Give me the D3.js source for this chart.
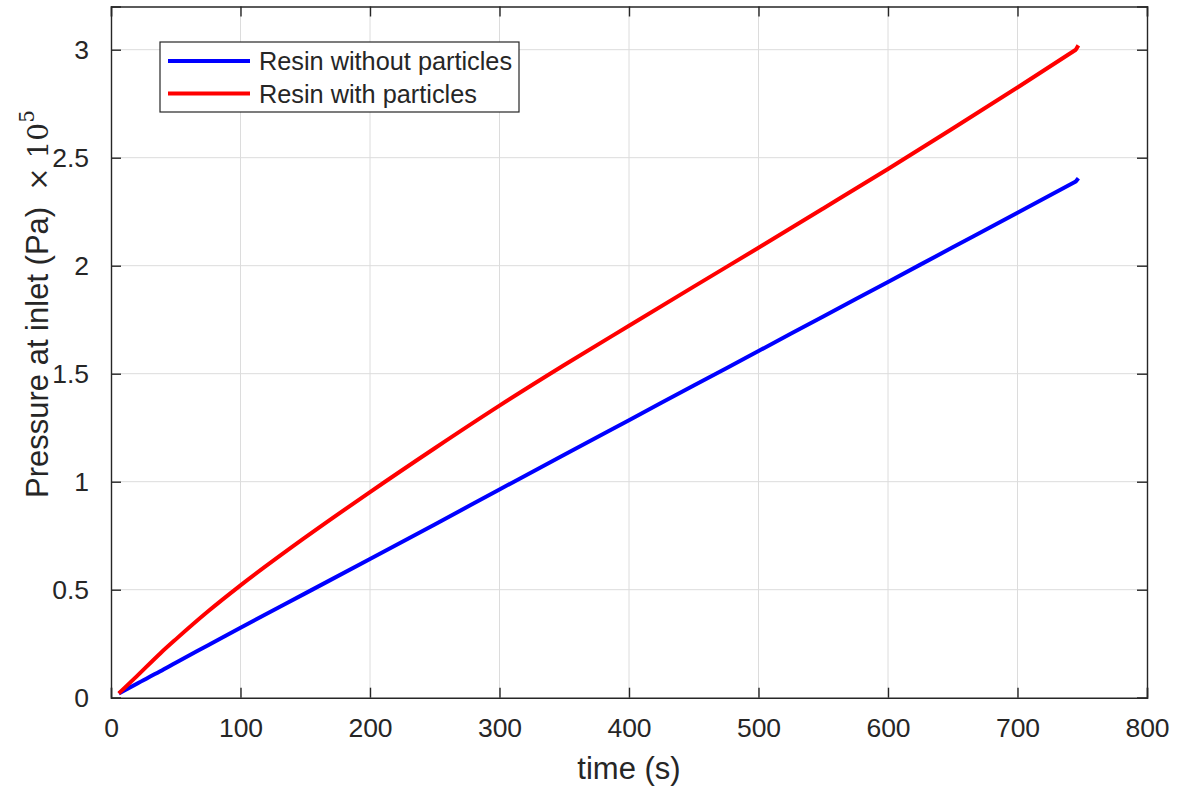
<!DOCTYPE html>
<html>
<head>
<meta charset="utf-8">
<script src="https://cdn.jsdelivr.net/npm/d3@7"></script>
<style>
  html, body { margin: 0; padding: 0; background: #fff; }
  svg { display: block; }
  text { font-family: "Liberation Sans", Arial, sans-serif; fill: #262626; }
</style>
</head>
<body>
<svg id="chart" width="1195" height="788"></svg>
<script>
// Inlet pressure (in units of 1e5 Pa) over time (s)
const timeWithout = [6, 20, 38, 50, 75, 100, 150, 200, 250, 300, 350, 400, 450, 500, 550, 600, 650, 700, 745, 747];
const pressureWithout = [0.02, 0.065, 0.122, 0.162, 0.243, 0.324, 0.483, 0.642, 0.802, 0.964, 1.125, 1.285, 1.445, 1.605, 1.765, 1.925, 2.085, 2.245, 2.39, 2.405];

const timeWith = [6, 20, 38, 50, 75, 100, 150, 200, 250, 300, 350, 400, 450, 500, 550, 600, 650, 700, 745, 747];
const pressureWith = [0.02, 0.10, 0.205, 0.27, 0.40, 0.52, 0.742, 0.952, 1.155, 1.352, 1.54, 1.722, 1.903, 2.083, 2.265, 2.448, 2.635, 2.825, 3.0, 3.02];

const seriesNames = ["Resin without particles", "Resin with particles"];
const seriesColors = ["#0000ff", "#ff0000"];

const xTicks = [0, 100, 200, 300, 400, 500, 600, 700, 800];
const yTicks = [0, 0.5, 1, 1.5, 2, 2.5, 3];
const yTickLabels = ["0", "0.5", "1", "1.5", "2", "2.5", "3"];

const svg = d3.select("#chart");
const plotLeft = 111, plotRight = 1147, plotTop = 6.5, plotBottom = 697.7;
const axisColor = "#262626";
const tickFont = "26.5px";

const x = d3.scaleLinear().domain([0, 800]).range([plotLeft, plotRight]);
const y = d3.scaleLinear().domain([0, 3.2]).range([plotBottom, plotTop]);

// grid
const grid = svg.append("g");
grid.selectAll(".gx").data(xTicks.slice(1, -1)).enter().append("line")
  .attr("x1", d => x(d)).attr("x2", d => x(d))
  .attr("y1", plotTop).attr("y2", plotBottom)
  .attr("stroke", "#dcdcdc").attr("stroke-width", 1);
grid.selectAll(".gy").data(yTicks.slice(1)).enter().append("line")
  .attr("x1", plotLeft).attr("x2", plotRight)
  .attr("y1", d => y(d)).attr("y2", d => y(d))
  .attr("stroke", "#dcdcdc").attr("stroke-width", 1);

// axes with inward ticks
const xAxis = d3.axisBottom(x).tickValues(xTicks).tickSize(-10).tickPadding(20).tickFormat(d3.format("d"));
const yAxis = d3.axisLeft(y).tickValues(yTicks).tickSize(-10).tickPadding(22)
  .tickFormat((d, i) => yTickLabels[i]);

const gx = svg.append("g").attr("transform", `translate(0,${plotBottom})`).call(xAxis);
const gy = svg.append("g").attr("transform", `translate(${plotLeft},0)`).call(yAxis);
const gxTop = svg.append("g").attr("transform", `translate(0,${plotTop})`)
  .call(d3.axisTop(x).tickValues(xTicks).tickSize(-10).tickFormat(""));
const gyRight = svg.append("g").attr("transform", `translate(${plotRight},0)`)
  .call(d3.axisRight(y).tickValues(yTicks).tickSize(-10).tickFormat(""));

[gx, gy, gxTop, gyRight].forEach(g => {
  g.selectAll(".domain").attr("stroke", axisColor).attr("stroke-width", 1.4);
  g.selectAll(".tick line").attr("stroke", axisColor).attr("stroke-width", 1.4);
  g.selectAll(".tick text").attr("fill", axisColor)
    .style("font-family", '"Liberation Sans", Arial, sans-serif')
    .style("font-size", tickFont);
});
gx.selectAll(".tick text").attr("dy", "0.71em");

// series: smooth body, with the short final step drawn straight
const smooth = d3.line().curve(d3.curveMonotoneX).x(d => x(d[0])).y(d => y(d[1]));
const straight = d3.line().x(d => x(d[0])).y(d => y(d[1]));
const series = [
  d3.zip(timeWithout, pressureWithout),
  d3.zip(timeWith, pressureWith)
];
series.forEach((s, i) => {
  const n = s.length;
  const d = smooth(s.slice(0, n - 1)) + straight(s.slice(n - 2)).replace(/^M[^L]*/, "");
  svg.append("path")
    .attr("d", d)
    .attr("fill", "none")
    .attr("stroke", seriesColors[i])
    .attr("stroke-width", 4)
    .attr("stroke-linejoin", "round");
});

// legend
const legend = svg.append("g");
legend.append("rect")
  .attr("x", 160).attr("y", 42).attr("width", 359).attr("height", 70)
  .attr("fill", "#fff").attr("stroke", axisColor).attr("stroke-width", 1.2);
seriesNames.forEach((name, i) => {
  const ly = 61 + i * 32.5;
  legend.append("line")
    .attr("x1", 168).attr("x2", 250).attr("y1", ly).attr("y2", ly)
    .attr("stroke", seriesColors[i]).attr("stroke-width", 4);
  legend.append("text")
    .attr("x", 259).attr("y", ly + 9)
    .style("font-size", "25.3px")
    .text(name);
});

// axis labels
svg.append("text")
  .attr("x", (plotLeft + plotRight) / 2).attr("y", 779)
  .attr("text-anchor", "middle")
  .style("font-size", "31px")
  .text("time (s)");

const yl = svg.append("text")
  .attr("transform", "translate(48,498) rotate(-90)")
  .attr("text-anchor", "start")
  .style("font-size", "31px");
yl.append("tspan").text("Pressure at inlet (Pa)");
yl.append("tspan").attr("dx", 16)
  .style("font-family", '"DejaVu Serif", "Liberation Serif", serif')
  .style("font-size", "28px")
  .text("× 10");
yl.append("tspan").attr("dy", -14)
  .style("font-family", '"DejaVu Serif", "Liberation Serif", serif')
  .style("font-size", "20px")
  .text("5");
</script>
</body>
</html>
